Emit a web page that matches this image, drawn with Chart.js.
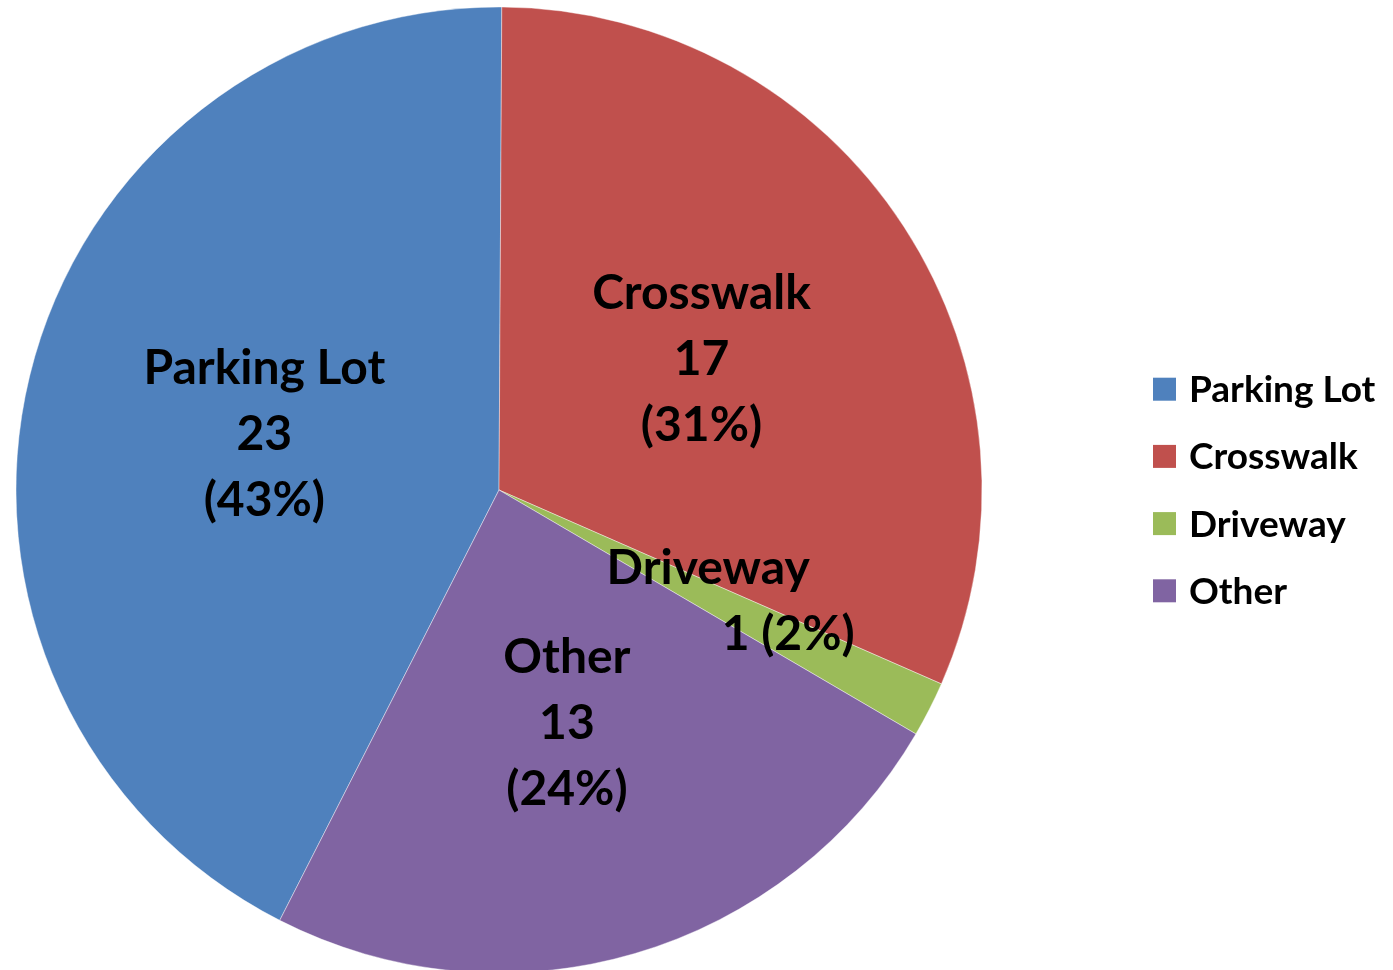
<!DOCTYPE html>
<html>
<head>
<meta charset="utf-8">
<script src="https://cdn.jsdelivr.net/npm/chart.js@4"></script>
<style>
html, body { margin: 0; padding: 0; background: #fff; overflow: hidden; }
#wrap { position: relative; width: 1393px; height: 970px; }
</style>
</head>
<body>
<div id="wrap"><canvas id="pieChart"></canvas></div>
<script>
const categories = ['Parking Lot', 'Crosswalk', 'Driveway', 'Other'];
const counts = [23, 17, 1, 13];
const sliceColors = ['#4F81BD', '#C0504D', '#9BBB59', '#8064A2'];

const total = counts.reduce((a, b) => a + b, 0);
const percentText = counts.map(v => `(${Math.round(v / total * 100)}%)`);

// driveway label is squeezed onto two lines in the original
const labelLines = categories.map((name, i) =>
    name === 'Driveway' ? [name, `${counts[i]} ${percentText[i]}`] : [name, String(counts[i]), percentText[i]]);
const lineShift = { Driveway: [-6, 74] };

const labelFont = 'bold 48px Lato';
const legendFont = 'bold 37px Lato';

const sliceLabels = {
    id: 'sliceLabels',
    afterDatasetsDraw(chart) {
        const ctx = chart.ctx;
        const arcs = chart.getDatasetMeta(0).data;
        ctx.save();
        ctx.font = labelFont;
        ctx.fillStyle = '#000';
        ctx.textAlign = 'center';
        ctx.textBaseline = 'alphabetic';
        arcs.forEach((arc, i) => {
            const pos = arc.tooltipPosition();
            const lines = labelLines[i];
            const shift = lineShift[categories[i]] || [];
            lines.forEach((txt, j) => {
                const y = pos.y + (j - (lines.length - 1) / 2) * 66 + 17;
                ctx.fillText(txt, pos.x + (shift[j] || 0), y);
            });
        });
        ctx.restore();
    }
};

const sideLegend = {
    id: 'sideLegend',
    afterDraw(chart) {
        const ctx = chart.ctx;
        const colors = chart.data.datasets[0].backgroundColor;
        const mid = (chart.chartArea.top + chart.chartArea.bottom) / 2;
        ctx.save();
        ctx.font = legendFont;
        ctx.textAlign = 'left';
        ctx.textBaseline = 'alphabetic';
        chart.data.labels.forEach((name, i) => {
            const cy = mid + (i - (chart.data.labels.length - 1) / 2) * 67.2;
            ctx.fillStyle = colors[i];
            ctx.fillRect(1153, cy - 11.5, 23, 23);
            ctx.fillStyle = '#000';
            ctx.fillText(name, 1189, cy + 13);
        });
        ctx.restore();
    }
};

function drawChart() {
    new Chart(document.getElementById('pieChart'), {
        type: 'pie',
        data: {
            labels: categories,
            datasets: [{
                data: counts,
                backgroundColor: sliceColors,
                borderColor: 'rgba(255,255,255,0.4)',
                borderWidth: 1,
                radius: 483,
                clip: false
            }]
        },
        options: {
            responsive: true,
            maintainAspectRatio: false,
            animation: false,
            rotation: -153,
            layout: { padding: { left: 16, right: 411, top: 10, bottom: 0 } },
            plugins: {
                legend: { display: false },
                tooltip: { enabled: false }
            }
        },
        plugins: [sliceLabels, sideLegend]
    });
}

document.fonts.load(labelFont).then(drawChart, drawChart);
</script>
</body>
</html>
